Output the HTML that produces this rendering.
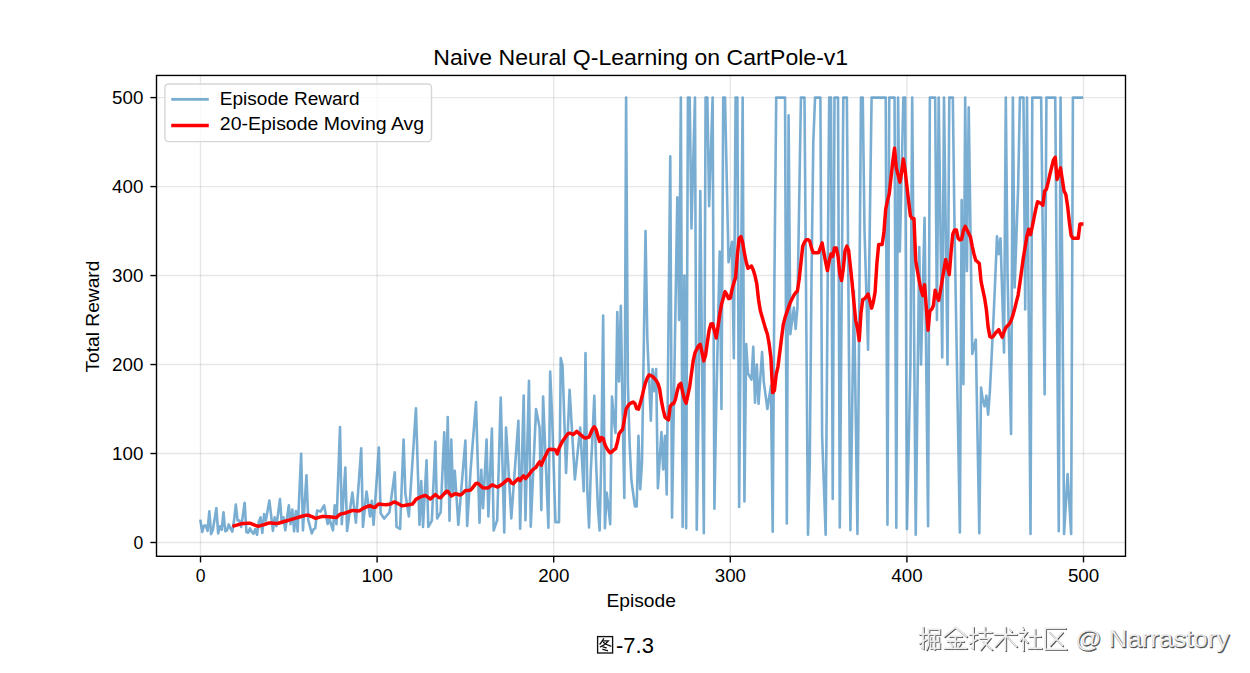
<!DOCTYPE html>
<html><head><meta charset="utf-8"><style>html,body{margin:0;padding:0;background:#fff;overflow:hidden;}svg{display:block;}text{font-family:"Liberation Sans", sans-serif;}</style></head>
<body><svg width="1250" height="673" viewBox="0 0 1250 673" fill="#000"><rect x="0" y="0" width="1250" height="673" fill="#fff"/><path d="M200.50 75.45V556.3" stroke="#b0b0b0" stroke-opacity="0.3" stroke-width="1.39" fill="none"/><path d="M377.10 75.45V556.3" stroke="#b0b0b0" stroke-opacity="0.3" stroke-width="1.39" fill="none"/><path d="M553.70 75.45V556.3" stroke="#b0b0b0" stroke-opacity="0.3" stroke-width="1.39" fill="none"/><path d="M730.30 75.45V556.3" stroke="#b0b0b0" stroke-opacity="0.3" stroke-width="1.39" fill="none"/><path d="M906.90 75.45V556.3" stroke="#b0b0b0" stroke-opacity="0.3" stroke-width="1.39" fill="none"/><path d="M1083.50 75.45V556.3" stroke="#b0b0b0" stroke-opacity="0.3" stroke-width="1.39" fill="none"/><path d="M156.5 542.50H1125.5" stroke="#b0b0b0" stroke-opacity="0.3" stroke-width="1.39" fill="none"/><path d="M156.5 453.52H1125.5" stroke="#b0b0b0" stroke-opacity="0.3" stroke-width="1.39" fill="none"/><path d="M156.5 364.54H1125.5" stroke="#b0b0b0" stroke-opacity="0.3" stroke-width="1.39" fill="none"/><path d="M156.5 275.56H1125.5" stroke="#b0b0b0" stroke-opacity="0.3" stroke-width="1.39" fill="none"/><path d="M156.5 186.58H1125.5" stroke="#b0b0b0" stroke-opacity="0.3" stroke-width="1.39" fill="none"/><path d="M156.5 97.60H1125.5" stroke="#b0b0b0" stroke-opacity="0.3" stroke-width="1.39" fill="none"/><polyline points="200.50,520.89 202.27,531.94 204.03,525.52 205.80,525.52 207.56,530.87 209.33,511.26 211.10,534.08 212.86,529.80 214.63,518.92 216.39,508.05 218.16,533.37 219.93,526.23 221.69,529.80 223.46,512.33 225.22,531.23 226.99,530.51 228.76,524.45 230.52,528.38 232.29,531.58 234.05,520.53 235.82,504.48 237.59,520.53 239.35,520.53 241.12,526.95 242.88,515.54 244.65,502.70 246.42,532.29 248.18,532.65 249.95,528.38 251.71,531.94 253.48,533.73 255.25,529.09 257.01,534.79 258.78,521.95 260.54,517.32 262.31,533.01 264.08,514.11 265.84,520.53 267.61,510.55 269.37,500.55 271.14,515.54 272.91,530.87 274.67,517.33 276.44,526.16 278.20,512.65 279.97,499.12 281.74,523.05 283.50,517.33 285.27,530.33 287.03,517.84 288.80,505.36 290.57,524.09 292.33,509.52 294.10,531.37 295.86,511.08 297.63,531.37 299.40,492.62 301.16,453.88 302.93,530.33 304.69,502.76 306.46,475.20 308.23,519.93 309.99,526.69 311.76,533.45 313.52,529.29 315.29,528.25 317.06,510.57 318.82,511.08 320.59,511.61 322.35,508.48 324.12,505.36 325.89,514.73 327.65,524.09 329.42,518.88 331.18,524.61 332.95,530.33 334.72,505.36 336.48,524.09 338.25,475.59 340.01,427.09 341.78,524.09 343.55,495.85 345.31,467.61 347.08,531.06 348.84,518.23 350.61,505.40 352.38,492.57 354.14,507.66 355.91,522.74 357.67,497.91 359.44,473.09 361.21,448.26 362.97,526.89 364.74,509.21 366.50,491.53 368.27,504.02 370.04,516.49 371.80,500.89 373.57,524.81 375.33,499.02 377.10,473.22 378.87,447.43 380.63,513.38 382.40,515.98 384.16,518.57 385.93,516.49 387.70,514.41 389.46,512.34 391.23,499.02 392.99,485.70 394.76,472.39 396.53,526.89 398.29,527.93 400.06,528.98 401.82,484.25 403.59,439.52 405.36,493.61 407.12,505.05 408.89,516.49 410.65,489.45 412.42,462.41 414.19,435.37 415.95,408.32 417.72,466.56 419.48,524.81 421.25,481.13 423.02,526.89 424.78,493.61 426.55,460.33 428.31,526.89 430.08,523.77 431.85,520.66 433.61,481.13 435.38,441.61 437.14,518.57 438.91,515.45 440.68,512.34 442.44,472.29 444.21,432.24 445.97,493.61 447.74,417.06 449.51,520.66 451.27,439.52 453.04,493.61 454.80,470.73 456.57,497.77 458.34,524.81 460.10,503.75 461.87,482.69 463.63,461.63 465.40,440.56 467.17,525.85 468.93,497.25 470.70,468.65 472.46,446.45 474.23,424.27 476.00,402.08 477.76,462.41 479.53,522.74 481.29,469.69 483.06,508.17 484.83,473.85 486.59,439.52 488.36,516.49 490.12,472.47 491.89,428.45 493.66,530.51 495.42,525.41 497.19,520.30 498.95,458.92 500.72,397.55 502.49,464.96 504.25,532.37 506.02,427.48 507.78,457.81 509.55,488.12 511.32,518.44 513.08,494.01 514.85,469.58 516.61,445.16 518.38,420.73 520.15,528.65 521.91,462.13 523.68,395.62 525.44,520.30 527.21,450.52 528.98,380.74 530.74,526.80 532.51,487.58 534.27,448.36 536.04,409.14 537.81,418.31 539.57,427.48 541.34,510.08 543.10,396.58 544.87,440.30 546.64,484.01 548.40,527.73 550.17,371.47 551.93,412.04 553.70,467.10 555.47,522.15 557.23,522.15 559.00,522.15 560.76,357.95 562.53,365.68 564.30,419.31 566.06,472.94 567.83,431.38 569.59,389.82 571.36,419.69 573.13,449.56 574.89,479.43 576.66,462.12 578.42,444.80 580.19,427.48 581.96,459.36 583.72,491.22 585.49,352.97 587.25,489.11 589.02,527.37 590.79,471.32 592.55,435.72 594.32,395.68 596.08,462.42 597.85,506.91 599.62,530.49 601.38,453.52 603.15,315.60 604.91,528.26 606.68,492.67 608.45,506.91 610.21,524.17 611.98,396.57 613.74,417.93 615.51,433.05 617.28,312.04 619.04,381.45 620.81,305.81 622.57,409.03 624.34,498.01 626.11,97.60 627.87,382.34 629.64,444.62 631.40,480.21 633.17,493.34 634.94,506.46 636.70,506.37 638.47,435.72 640.23,489.11 642.00,462.42 643.77,346.74 645.53,231.07 647.30,337.85 649.06,379.22 650.83,420.60 652.60,368.99 654.36,391.23 656.13,368.99 657.89,488.22 659.66,460.19 661.43,432.16 663.19,469.54 664.96,435.72 666.72,494.45 668.49,325.39 670.26,156.33 672.02,517.59 673.79,409.03 675.55,303.14 677.32,197.26 679.09,320.05 680.85,97.60 682.62,526.93 684.38,275.56 686.15,528.26 687.92,97.60 689.68,97.60 691.45,228.40 693.21,163.00 694.98,97.60 696.75,529.69 698.51,409.03 700.28,191.03 702.04,364.54 703.81,533.25 705.58,97.60 707.34,97.60 709.11,206.16 710.87,151.88 712.64,97.60 714.41,508.69 716.17,409.03 717.94,330.28 719.70,251.54 721.47,409.03 723.24,97.60 725.00,97.60 726.77,179.91 728.53,262.21 730.30,251.98 732.07,241.75 733.83,358.31 735.60,97.60 737.36,97.60 739.13,506.91 740.90,302.25 742.66,97.60 744.43,501.57 746.19,344.07 747.96,373.44 749.73,376.55 751.49,379.67 753.26,346.74 755.02,402.80 756.79,364.54 758.56,403.69 760.32,377.89 762.09,352.08 763.85,382.34 765.62,395.68 767.39,409.03 769.15,397.46 770.92,385.90 772.68,531.82 774.45,275.56 776.22,97.60 777.98,97.60 779.75,97.60 781.51,97.60 783.28,97.60 785.05,97.60 786.81,523.37 788.58,115.40 790.34,334.29 792.11,320.94 793.88,307.59 795.64,328.95 797.41,307.59 799.17,202.60 800.94,97.60 802.71,97.60 804.47,97.60 806.24,316.13 808.00,534.67 809.77,462.42 811.54,275.56 813.30,142.09 815.07,97.60 816.83,97.60 818.60,97.60 820.37,97.60 822.13,435.72 823.90,485.20 825.66,534.67 827.43,316.13 829.20,97.60 830.96,97.60 832.73,498.90 834.49,97.60 836.26,97.60 838.03,97.60 839.79,527.37 841.56,312.49 843.32,97.60 845.09,97.60 846.86,97.60 848.62,313.87 850.39,530.13 852.15,410.41 853.92,290.69 855.69,412.32 857.45,533.96 859.22,315.78 860.98,97.60 862.75,97.60 864.52,231.07 866.28,290.42 868.05,349.77 869.81,223.68 871.58,97.60 873.35,97.60 875.11,97.60 876.88,97.60 878.64,97.60 880.41,97.60 882.18,97.60 883.94,97.60 885.71,97.60 887.47,524.79 889.24,97.60 891.01,97.60 892.77,97.60 894.54,97.60 896.30,527.64 898.07,97.60 899.84,251.54 901.60,174.57 903.37,97.60 905.13,97.60 906.90,529.06 908.67,446.80 910.43,364.54 912.20,97.60 913.96,316.13 915.73,534.67 917.50,390.88 919.26,247.09 921.03,364.54 922.79,291.13 924.56,217.72 926.33,371.97 928.09,526.22 929.86,97.60 931.62,97.60 933.39,97.60 935.16,97.60 936.92,320.05 938.69,97.60 940.45,227.51 942.22,357.42 943.99,97.60 945.75,231.07 947.52,364.54 949.28,97.60 951.05,97.60 952.82,97.60 954.58,231.07 956.35,331.56 958.11,432.05 959.88,532.53 961.65,199.93 963.41,384.12 965.18,97.60 966.94,271.11 968.71,107.39 970.48,230.63 972.24,353.86 974.01,346.74 975.77,339.63 977.54,436.44 979.31,533.25 981.07,387.67 982.84,400.13 984.60,406.36 986.37,395.68 988.14,414.72 989.90,391.23 991.67,355.64 993.43,320.05 995.20,280.01 996.97,236.41 998.73,254.20 1000.50,238.19 1002.26,295.36 1004.03,352.53 1005.80,97.60 1007.56,275.56 1009.33,354.75 1011.09,433.94 1012.86,97.60 1014.63,287.57 1016.39,237.08 1018.16,186.58 1019.92,97.60 1021.69,97.60 1023.46,97.60 1025.22,309.37 1026.99,97.60 1028.75,315.78 1030.52,533.96 1032.29,97.60 1034.05,97.60 1035.82,97.60 1037.58,97.60 1039.35,97.60 1041.12,97.60 1042.88,245.97 1044.65,394.35 1046.41,97.60 1048.18,97.60 1049.95,97.60 1051.71,97.60 1053.48,97.60 1055.24,97.60 1057.01,314.40 1058.78,531.20 1060.54,97.60 1062.31,275.56 1064.07,533.96 1065.84,503.97 1067.61,473.99 1069.37,503.97 1071.14,533.96 1072.90,97.60 1074.67,97.60 1076.44,97.60 1078.20,97.60 1079.97,97.60 1081.73,97.60" fill="none" stroke="#1f77b4" stroke-opacity="0.6" stroke-width="2.6" stroke-linejoin="round" stroke-linecap="square"/><polyline points="234.05,525.91 235.82,525.37 237.59,524.85 239.35,524.31 241.12,523.79 242.88,523.48 244.65,523.41 246.42,523.34 248.18,523.27 249.95,523.20 251.71,523.89 253.48,524.59 255.25,525.30 257.01,526.00 258.78,526.16 260.54,525.64 262.31,525.10 264.08,524.58 265.84,524.00 267.61,523.41 269.37,522.90 271.14,523.03 272.91,523.17 274.67,523.32 276.44,523.46 278.20,523.24 279.97,522.75 281.74,522.25 283.50,521.76 285.27,521.26 287.03,520.73 288.80,520.20 290.57,519.67 292.33,519.14 294.10,518.61 295.86,518.08 297.63,517.55 299.40,517.03 301.16,516.49 302.93,516.05 304.69,515.61 306.46,515.17 308.23,515.13 309.99,515.83 311.76,516.54 313.52,517.36 315.29,518.24 317.06,517.96 318.82,517.43 320.59,516.90 322.35,516.49 324.12,516.56 325.89,516.63 327.65,516.70 329.42,516.78 331.18,516.94 332.95,517.17 334.72,517.39 336.48,517.51 338.25,515.75 340.01,514.29 341.78,513.86 343.55,513.41 345.31,512.98 347.08,512.40 348.84,511.73 350.61,511.07 352.38,510.40 354.14,510.62 355.91,510.84 357.67,511.06 359.44,510.77 361.21,509.60 362.97,508.42 364.74,507.58 366.50,506.91 368.27,506.25 370.04,505.62 371.80,506.50 373.57,507.38 375.33,507.34 377.10,505.13 378.87,504.09 380.63,504.27 382.40,504.44 384.16,504.61 385.93,504.79 387.70,504.51 389.46,504.22 391.23,503.68 392.99,502.35 394.76,501.98 396.53,502.86 398.29,503.82 400.06,504.82 401.82,505.82 403.59,505.64 405.36,505.32 407.12,505.01 408.89,504.69 410.65,504.38 412.42,504.07 414.19,501.93 415.95,499.27 417.72,498.34 419.48,497.46 421.25,496.65 423.02,496.06 424.78,495.47 426.55,495.99 428.31,497.46 430.08,498.94 431.85,497.75 433.61,495.99 435.38,494.55 437.14,496.02 438.91,497.49 440.68,497.65 442.44,495.69 444.21,493.72 445.97,491.76 447.74,491.16 449.51,493.63 451.27,495.95 453.04,494.90 454.80,493.84 456.57,493.99 458.34,494.50 460.10,495.00 461.87,494.13 463.63,492.37 465.40,490.60 467.17,490.40 468.93,490.40 470.70,490.03 472.46,487.82 474.23,485.62 476.00,483.41 477.76,483.24 479.53,484.79 481.29,486.34 483.06,487.88 484.83,488.00 486.59,488.00 488.36,487.72 490.12,486.30 491.89,484.89 493.66,485.51 495.42,486.26 497.19,487.02 498.95,486.30 500.72,485.12 502.49,483.92 504.25,482.38 506.02,480.84 507.78,479.29 509.55,479.90 511.32,482.88 513.08,483.77 514.85,481.99 516.61,480.21 518.38,478.61 520.15,480.57 521.91,477.54 523.68,475.85 525.44,478.61 527.21,476.65 528.98,474.61 530.74,472.21 532.51,469.89 534.27,468.65 536.04,467.31 537.81,464.20 539.57,461.88 541.34,465.18 543.10,460.64 544.87,457.08 546.64,453.52 548.40,449.87 550.17,449.25 551.93,449.52 553.70,449.52 555.47,449.87 557.23,453.88 559.00,448.18 560.76,444.62 562.53,441.13 564.30,438.70 566.06,436.27 567.83,433.84 569.59,433.13 571.36,433.68 573.13,434.57 574.89,433.20 576.66,431.32 578.42,432.83 580.19,434.34 581.96,435.87 583.72,437.38 585.49,438.17 587.25,437.66 589.02,437.16 590.79,432.97 592.55,428.77 594.32,426.74 596.08,429.57 597.85,436.14 599.62,441.43 601.38,437.54 603.15,438.34 604.91,444.62 606.68,448.18 608.45,450.85 610.21,452.90 611.98,451.74 613.74,449.96 615.51,448.89 617.28,442.84 619.04,433.94 620.81,431.27 622.57,429.50 624.34,419.71 626.11,409.03 627.87,406.09 629.64,403.78 631.40,402.89 633.17,402.01 634.94,403.61 636.70,408.62 638.47,409.23 640.23,403.34 642.00,396.78 643.77,389.13 645.53,382.55 647.30,377.84 649.06,374.96 650.83,375.55 652.60,376.52 654.36,378.29 656.13,380.41 657.89,383.35 659.66,388.90 661.43,400.91 663.19,409.93 664.96,416.99 666.72,418.63 668.49,419.81 670.26,406.12 672.02,404.02 673.79,403.51 675.55,398.86 677.32,390.62 679.09,384.82 680.85,383.39 682.62,392.23 684.38,399.02 686.15,403.26 687.92,394.79 689.68,386.56 691.45,373.62 693.21,360.67 694.98,352.87 696.75,349.34 698.51,345.81 700.28,344.43 702.04,352.67 703.81,360.92 705.58,355.20 707.34,342.25 709.11,330.21 710.87,324.03 712.64,323.83 714.41,330.90 716.17,337.95 717.94,327.01 719.70,314.64 721.47,304.66 723.24,298.18 725.00,291.70 726.77,294.54 728.53,298.67 730.30,298.19 732.07,289.36 733.83,282.90 735.60,277.61 737.36,254.84 739.13,238.38 740.90,236.60 742.66,242.56 744.43,253.15 746.19,262.09 747.96,268.33 749.73,267.15 751.49,265.98 753.26,269.98 755.02,275.87 756.79,283.86 758.56,299.75 760.32,310.53 762.09,316.70 763.85,322.89 765.62,328.92 767.39,334.22 769.15,343.75 770.92,357.88 772.68,392.57 774.45,390.34 776.22,374.33 777.98,366.56 779.75,352.43 781.51,338.30 783.28,324.63 785.05,317.58 786.81,312.43 788.58,307.13 790.34,302.37 792.11,298.84 793.88,295.30 795.64,292.71 797.41,290.94 799.17,279.22 800.94,262.74 802.71,246.26 804.47,242.22 806.24,239.70 808.00,239.70 809.77,241.10 811.54,248.16 813.30,252.78 815.07,252.78 816.83,252.78 818.60,252.78 820.37,247.80 822.13,242.99 823.90,253.08 825.66,262.08 827.43,270.59 829.20,260.88 830.96,253.96 832.73,256.34 834.49,247.88 836.26,247.88 838.03,256.07 839.79,273.73 841.56,280.56 843.32,268.42 845.09,250.76 846.86,246.03 848.62,250.36 850.39,266.55 852.15,283.18 853.92,302.60 855.69,320.27 857.45,328.06 859.22,340.52 860.98,312.93 862.75,299.66 864.52,298.78 866.28,296.61 868.05,293.96 869.81,300.63 871.58,308.18 873.35,302.00 875.11,291.91 876.88,263.65 878.64,244.60 880.41,244.60 882.18,244.60 883.94,232.00 885.71,209.04 887.47,200.88 889.24,193.70 891.01,177.68 892.77,161.67 894.54,148.32 896.30,167.89 898.07,175.01 899.84,182.13 901.60,172.34 903.37,159.00 905.13,170.56 906.90,186.41 908.67,201.72 910.43,215.85 912.20,218.45 913.96,218.45 915.73,260.70 917.50,271.11 919.26,280.90 921.03,289.80 922.79,295.49 924.56,284.81 926.33,307.59 928.09,330.19 929.86,310.80 931.62,309.37 933.39,305.81 935.16,290.15 936.92,296.03 938.69,300.47 940.45,290.69 942.22,280.01 943.99,269.33 945.75,259.54 947.52,267.55 949.28,274.67 951.05,252.43 952.82,234.13 954.58,229.90 956.35,229.90 958.11,238.21 959.88,239.97 961.65,239.35 963.41,230.52 965.18,226.32 966.94,229.84 968.71,233.37 970.48,236.91 972.24,246.37 974.01,254.12 975.77,260.31 977.54,261.74 979.31,263.45 981.07,281.55 982.84,289.79 984.60,298.03 986.37,309.50 988.14,327.15 989.90,336.57 991.67,337.45 993.43,336.08 995.20,333.42 996.97,331.48 998.73,329.70 1000.50,333.74 1002.26,337.31 1004.03,332.01 1005.80,327.55 1007.56,325.78 1009.33,324.02 1011.09,320.63 1012.86,315.33 1014.63,308.95 1016.39,301.89 1018.16,294.82 1019.92,282.87 1021.69,269.92 1023.46,257.10 1025.22,246.50 1026.99,235.90 1028.75,229.29 1030.52,234.63 1032.29,226.62 1034.05,217.72 1035.82,208.82 1037.58,201.71 1039.35,202.60 1041.12,203.49 1042.88,205.27 1044.65,191.03 1046.41,189.25 1048.18,182.13 1049.95,174.12 1051.71,167.00 1053.48,159.89 1055.24,157.22 1057.01,179.46 1058.78,174.12 1060.54,167.89 1062.31,179.46 1064.07,191.03 1065.84,194.59 1067.61,206.16 1069.37,222.17 1071.14,235.52 1072.90,238.19 1074.67,238.19 1076.44,238.19 1078.20,238.19 1079.97,223.95 1081.73,223.95" fill="none" stroke="#ff0000" stroke-width="3.47" stroke-linejoin="round" stroke-linecap="square"/><rect x="156.5" y="75.45" width="969.0" height="480.84999999999997" fill="none" stroke="#000" stroke-width="1.39"/><line x1="200.50" y1="556.3" x2="200.50" y2="562.4" stroke="#000" stroke-width="1.39"/><text x="200.60" y="582.0" text-anchor="middle" font-size="17.6">0</text><line x1="377.10" y1="556.3" x2="377.10" y2="562.4" stroke="#000" stroke-width="1.39"/><text x="377.20" y="582.0" text-anchor="middle" font-size="17.6" textLength="31.3" lengthAdjust="spacingAndGlyphs">100</text><line x1="553.70" y1="556.3" x2="553.70" y2="562.4" stroke="#000" stroke-width="1.39"/><text x="553.80" y="582.0" text-anchor="middle" font-size="17.6" textLength="31.3" lengthAdjust="spacingAndGlyphs">200</text><line x1="730.30" y1="556.3" x2="730.30" y2="562.4" stroke="#000" stroke-width="1.39"/><text x="730.40" y="582.0" text-anchor="middle" font-size="17.6" textLength="31.3" lengthAdjust="spacingAndGlyphs">300</text><line x1="906.90" y1="556.3" x2="906.90" y2="562.4" stroke="#000" stroke-width="1.39"/><text x="907.00" y="582.0" text-anchor="middle" font-size="17.6" textLength="31.3" lengthAdjust="spacingAndGlyphs">400</text><line x1="1083.50" y1="556.3" x2="1083.50" y2="562.4" stroke="#000" stroke-width="1.39"/><text x="1083.60" y="582.0" text-anchor="middle" font-size="17.6" textLength="31.3" lengthAdjust="spacingAndGlyphs">500</text><line x1="156.5" y1="542.50" x2="150.4" y2="542.50" stroke="#000" stroke-width="1.39"/><text x="143.4" y="548.80" text-anchor="end" font-size="17.6">0</text><line x1="156.5" y1="453.52" x2="150.4" y2="453.52" stroke="#000" stroke-width="1.39"/><text x="143.4" y="459.82" text-anchor="end" font-size="17.6" textLength="31.3" lengthAdjust="spacingAndGlyphs">100</text><line x1="156.5" y1="364.54" x2="150.4" y2="364.54" stroke="#000" stroke-width="1.39"/><text x="143.4" y="370.84" text-anchor="end" font-size="17.6" textLength="31.3" lengthAdjust="spacingAndGlyphs">200</text><line x1="156.5" y1="275.56" x2="150.4" y2="275.56" stroke="#000" stroke-width="1.39"/><text x="143.4" y="281.86" text-anchor="end" font-size="17.6" textLength="31.3" lengthAdjust="spacingAndGlyphs">300</text><line x1="156.5" y1="186.58" x2="150.4" y2="186.58" stroke="#000" stroke-width="1.39"/><text x="143.4" y="192.88" text-anchor="end" font-size="17.6" textLength="31.3" lengthAdjust="spacingAndGlyphs">400</text><line x1="156.5" y1="97.60" x2="150.4" y2="97.60" stroke="#000" stroke-width="1.39"/><text x="143.4" y="103.90" text-anchor="end" font-size="17.6" textLength="31.3" lengthAdjust="spacingAndGlyphs">500</text><text x="640.7" y="65" text-anchor="middle" font-size="21.8" textLength="414.9" lengthAdjust="spacingAndGlyphs">Naive Neural Q-Learning on CartPole-v1</text><text x="641.2" y="606.7" text-anchor="middle" font-size="17.6" textLength="69.5" lengthAdjust="spacingAndGlyphs">Episode</text><text transform="translate(99.3,316.6) rotate(-90)" text-anchor="middle" font-size="17.6" textLength="111.9" lengthAdjust="spacingAndGlyphs">Total Reward</text><rect x="164.9" y="84" width="266.6" height="57.6" rx="3.5" fill="#fff" fill-opacity="0.8" stroke="#d6d6d6" stroke-width="1.39"/><line x1="171.2" y1="99.4" x2="208.8" y2="99.4" stroke="#1f77b4" stroke-opacity="0.6" stroke-width="2.6"/><line x1="171.2" y1="125.5" x2="208.8" y2="125.5" stroke="#ff0000" stroke-width="3.47"/><text x="219.8" y="104.6" font-size="17.6" textLength="139.7" lengthAdjust="spacingAndGlyphs">Episode Reward</text><text x="219.8" y="130.4" font-size="17.6" textLength="204.4" lengthAdjust="spacingAndGlyphs">20-Episode Moving Avg</text><g fill="none" stroke="#111" stroke-width="1.35" stroke-linecap="round"><rect x="597.6" y="636.6" width="15" height="16.4" stroke-linecap="butt"/><path d="M603.6 638.8 Q602.2 641.8 600.0 644.0"/><path d="M602.2 640.9 L608.4 640.9 Q605.2 645.0 600.4 646.8"/><path d="M603.6 642.4 Q607.0 645.2 610.8 646.2"/><path d="M603.0 646.8 L606.2 647.9"/><path d="M602.9 649.3 L607.4 650.7"/></g><text x="616.0" y="652.6" font-size="22">-7.3</text><g fill="none" stroke="#505050" stroke-width="1.7" stroke-linecap="square"><path transform="translate(920.4,628.2)" d="M0 7H7"/><path transform="translate(920.4,628.2)" d="M3.5 0V21L2 20"/><path transform="translate(920.4,628.2)" d="M0 16L7 12"/><path transform="translate(920.4,628.2)" d="M9 2H20V7H9"/><path transform="translate(920.4,628.2)" d="M9 2V14Q9 19 7 22"/><path transform="translate(920.4,628.2)" d="M15 8V22"/><path transform="translate(920.4,628.2)" d="M11 10V14H19V10"/><path transform="translate(920.4,628.2)" d="M11 16V21H20V16"/><path transform="translate(945.3,628.2)" d="M11 0L0 9"/><path transform="translate(945.3,628.2)" d="M11 0L22 9"/><path transform="translate(945.3,628.2)" d="M5 9H17"/><path transform="translate(945.3,628.2)" d="M3 14H19"/><path transform="translate(945.3,628.2)" d="M11 9V21"/><path transform="translate(945.3,628.2)" d="M6 16L8 19"/><path transform="translate(945.3,628.2)" d="M16 16L14 19"/><path transform="translate(945.3,628.2)" d="M0 21H22"/><path transform="translate(970.6,628.2)" d="M0 7H7"/><path transform="translate(970.6,628.2)" d="M3.5 0V21L2 20"/><path transform="translate(970.6,628.2)" d="M0 16L7 12"/><path transform="translate(970.6,628.2)" d="M9 5H22"/><path transform="translate(970.6,628.2)" d="M15 0V10"/><path transform="translate(970.6,628.2)" d="M10 11H20L11 22"/><path transform="translate(970.6,628.2)" d="M13 14L22 22"/><path transform="translate(995.3,628.2)" d="M0 7H22"/><path transform="translate(995.3,628.2)" d="M11 0V23"/><path transform="translate(995.3,628.2)" d="M11 8L1 19"/><path transform="translate(995.3,628.2)" d="M11 8L22 19"/><path transform="translate(995.3,628.2)" d="M15 2L17 4"/><path transform="translate(1020.2,628.2)" d="M3 0L4 2"/><path transform="translate(1020.2,628.2)" d="M0 5H7L1 13"/><path transform="translate(1020.2,628.2)" d="M4 10V23"/><path transform="translate(1020.2,628.2)" d="M5 12L8 15"/><path transform="translate(1020.2,628.2)" d="M10 9H21"/><path transform="translate(1020.2,628.2)" d="M15.5 2V21"/><path transform="translate(1020.2,628.2)" d="M9 21H22"/><path transform="translate(1045.2,628.2)" d="M21 1H1V22H22"/><path transform="translate(1045.2,628.2)" d="M5 5L18 18"/><path transform="translate(1045.2,628.2)" d="M18 5L6 18"/></g><g fill="none" stroke="#ebebeb" stroke-width="1.8" stroke-linecap="square"><path transform="translate(919.5,627.3)" d="M0 7H7"/><path transform="translate(919.5,627.3)" d="M3.5 0V21L2 20"/><path transform="translate(919.5,627.3)" d="M0 16L7 12"/><path transform="translate(919.5,627.3)" d="M9 2H20V7H9"/><path transform="translate(919.5,627.3)" d="M9 2V14Q9 19 7 22"/><path transform="translate(919.5,627.3)" d="M15 8V22"/><path transform="translate(919.5,627.3)" d="M11 10V14H19V10"/><path transform="translate(919.5,627.3)" d="M11 16V21H20V16"/><path transform="translate(944.4,627.3)" d="M11 0L0 9"/><path transform="translate(944.4,627.3)" d="M11 0L22 9"/><path transform="translate(944.4,627.3)" d="M5 9H17"/><path transform="translate(944.4,627.3)" d="M3 14H19"/><path transform="translate(944.4,627.3)" d="M11 9V21"/><path transform="translate(944.4,627.3)" d="M6 16L8 19"/><path transform="translate(944.4,627.3)" d="M16 16L14 19"/><path transform="translate(944.4,627.3)" d="M0 21H22"/><path transform="translate(969.7,627.3)" d="M0 7H7"/><path transform="translate(969.7,627.3)" d="M3.5 0V21L2 20"/><path transform="translate(969.7,627.3)" d="M0 16L7 12"/><path transform="translate(969.7,627.3)" d="M9 5H22"/><path transform="translate(969.7,627.3)" d="M15 0V10"/><path transform="translate(969.7,627.3)" d="M10 11H20L11 22"/><path transform="translate(969.7,627.3)" d="M13 14L22 22"/><path transform="translate(994.4,627.3)" d="M0 7H22"/><path transform="translate(994.4,627.3)" d="M11 0V23"/><path transform="translate(994.4,627.3)" d="M11 8L1 19"/><path transform="translate(994.4,627.3)" d="M11 8L22 19"/><path transform="translate(994.4,627.3)" d="M15 2L17 4"/><path transform="translate(1019.3,627.3)" d="M3 0L4 2"/><path transform="translate(1019.3,627.3)" d="M0 5H7L1 13"/><path transform="translate(1019.3,627.3)" d="M4 10V23"/><path transform="translate(1019.3,627.3)" d="M5 12L8 15"/><path transform="translate(1019.3,627.3)" d="M10 9H21"/><path transform="translate(1019.3,627.3)" d="M15.5 2V21"/><path transform="translate(1019.3,627.3)" d="M9 21H22"/><path transform="translate(1044.3,627.3)" d="M21 1H1V22H22"/><path transform="translate(1044.3,627.3)" d="M5 5L18 18"/><path transform="translate(1044.3,627.3)" d="M18 5L6 18"/></g><text x="1075.2" y="647.4" font-size="24.5" fill="#505050" stroke="#505050" stroke-width="0.5" transform="translate(0.9,1.0)" textLength="154" lengthAdjust="spacingAndGlyphs">@ Narrastory</text><text x="1075.2" y="647.4" font-size="24.5" fill="#ebebeb" textLength="154" lengthAdjust="spacingAndGlyphs">@ Narrastory</text></svg></body></html>
